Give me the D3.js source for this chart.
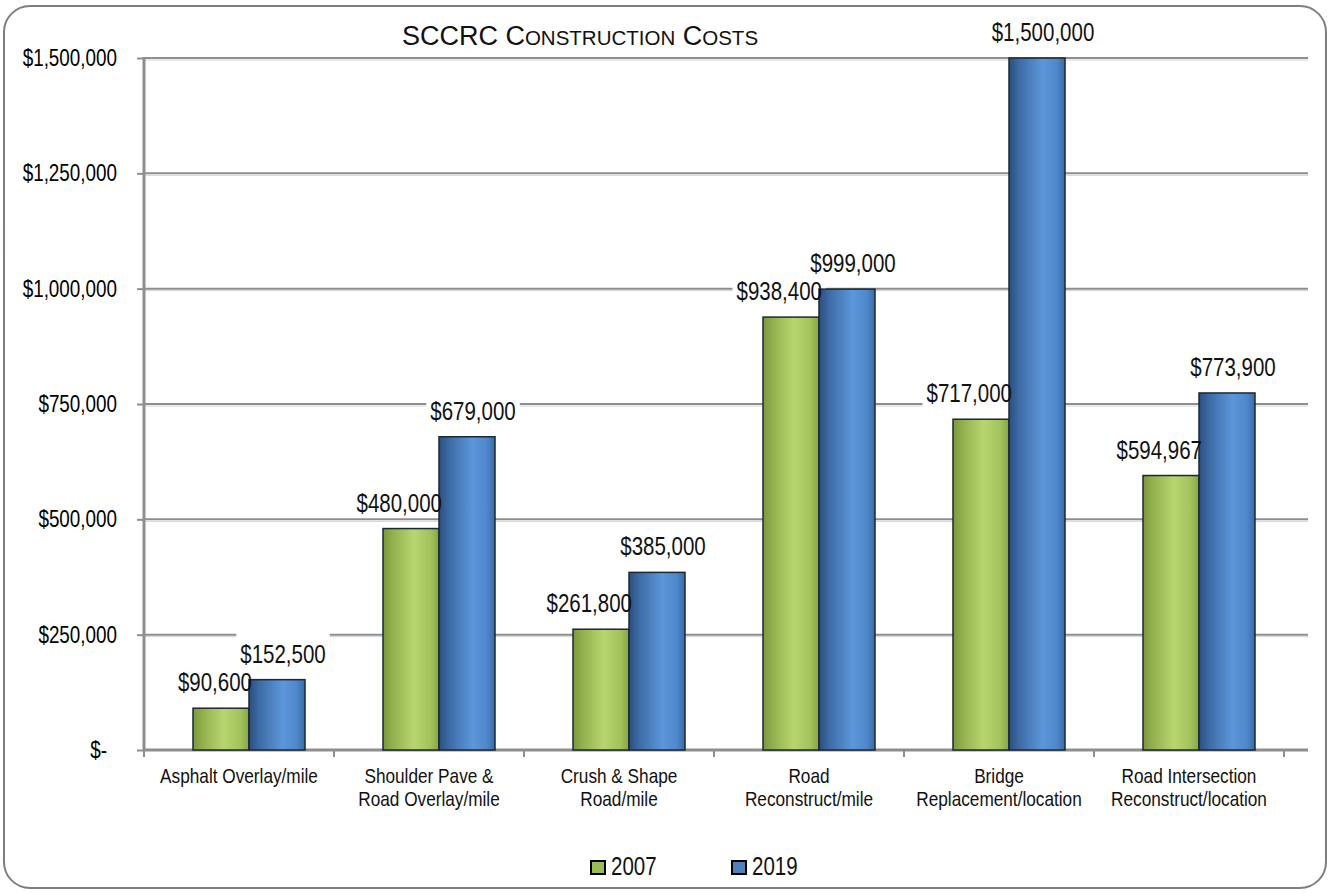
<!DOCTYPE html>
<html>
<head>
<meta charset="utf-8">
<script src="https://cdn.jsdelivr.net/npm/d3@7"></script>
<style>
  html, body { margin: 0; padding: 0; background: #fff; }
  svg { display: block; font-family: "Liberation Sans", Arial, sans-serif; }
</style>
</head>
<body>
<svg id="chart"></svg>
<script>
// chart values
const categories = [
  "Asphalt Overlay/mile",
  "Shoulder Pave &|Road Overlay/mile",
  "Crush & Shape|Road/mile",
  "Road|Reconstruct/mile",
  "Bridge|Replacement/location",
  "Road Intersection|Reconstruct/location"
];
const series = ["2007", "2019"];
const values2007 = [90600, 480000, 261800, 938400, 717000, 594967];
const values2019 = [152500, 679000, 385000, 999000, 1500000, 773900];
const yTicks = [0, 250000, 500000, 750000, 1000000, 1250000, 1500000];

const width = 1330, height = 894;
const margin = {top: 58, right: 46, bottom: 144, left: 144};
const squeeze = 0.82; // no narrow face installed, so condense regular glyphs

const svg = d3.select("#chart")
  .attr("width", width)
  .attr("height", height)
  .attr("viewBox", [0, 0, width, height]);

// turn x/y into a transform so the text can be squeezed around its anchor
function narrow(sel) {
  sel.each(function() {
    const t = d3.select(this);
    const x = +t.attr("x") || 0, y = +t.attr("y") || 0;
    t.attr("x", 0).attr("y", 0)
     .attr("transform", `translate(${x},${y}) scale(${squeeze},1)`);
  });
}

const defs = svg.append("defs");
function gradient(id, stops) {
  const g = defs.append("linearGradient").attr("id", id)
    .attr("x1", "0%").attr("x2", "100%").attr("y1", "0%").attr("y2", "0%");
  stops.forEach(s => g.append("stop").attr("offset", s[0]).attr("stop-color", s[1]));
}
gradient("g2007", [["0%", "#7b983c"], ["18%", "#93b24f"], ["55%", "#b7d66f"], ["85%", "#a2c25c"], ["100%", "#86a545"]]);
gradient("g2019", [["0%", "#2a4f7d"], ["18%", "#3d6ba5"], ["60%", "#5c97da"], ["85%", "#4f88cb"], ["100%", "#3b6ba6"]]);
const fills = {"2007": "url(#g2007)", "2019": "url(#g2019)"};
const legendFills = {"2007": "#9bbb59", "2019": "#4f81bd"};

const data = categories.map((c, i) => ({cat: c, "2007": values2007[i], "2019": values2019[i]}));

const x0 = d3.scaleBand()
  .domain(categories)
  .range([margin.left, 1284]);

const x1 = d3.scaleBand()
  .domain(series)
  .range([0, 112]);

const y = d3.scaleLinear()
  .domain([0, 1500000])
  .range([750, margin.top]);

const pairShift = x0.bandwidth() / 2 + 10 - 56;
const gridRight = 1308;

// outer frame
svg.append("rect")
  .attr("x", 4).attr("y", 6)
  .attr("width", 1322).attr("height", 882)
  .attr("rx", 26).attr("ry", 26)
  .attr("fill", "#fff")
  .attr("stroke", "#7f7f7f")
  .attr("stroke-width", 2);

// gridlines
const grid = svg.append("g");
grid.selectAll("line.hi")
  .data(yTicks.filter(d => d > 0))
  .join("line")
    .attr("class", "hi")
    .attr("x1", margin.left).attr("x2", gridRight)
    .attr("y1", d => y(d)).attr("y2", d => y(d))
    .attr("stroke", "#8e8e8e")
    .attr("stroke-width", 2);
grid.selectAll("line.lo")
  .data(yTicks.filter(d => d > 0))
  .join("line")
    .attr("class", "lo")
    .attr("x1", margin.left).attr("x2", gridRight)
    .attr("y1", d => y(d) + 2).attr("y2", d => y(d) + 2)
    .attr("stroke", "#d4d4d4")
    .attr("stroke-width", 1);

// y axis
const yAxis = svg.append("g")
  .attr("transform", `translate(${margin.left},0)`)
  .call(d3.axisLeft(y).tickValues(yTicks).tickSize(7).tickPadding(20)
    .tickFormat(d => d === 0 ? "$-" : d3.format("$,")(d)))
  .call(g => g.select(".domain").remove());
yAxis.attr("font-family", null).attr("font-size", null);
yAxis.selectAll(".tick line").attr("stroke", "#8e8e8e").attr("stroke-width", 2);
yAxis.selectAll(".tick text")
  .attr("font-size", 23)
  .attr("fill", "#000")
  .attr("x", d => d === 0 ? -37 : -27)
  .call(narrow);

svg.append("line")
  .attr("x1", margin.left).attr("x2", margin.left)
  .attr("y1", margin.top - 1).attr("y2", 751)
  .attr("stroke", "#8e8e8e").attr("stroke-width", 3);

// x axis
const xAxis = svg.append("g")
  .attr("transform", `translate(0,750)`);
xAxis.append("line")
  .attr("x1", margin.left).attr("x2", gridRight)
  .attr("y1", 0).attr("y2", 0)
  .attr("stroke", "#8e8e8e").attr("stroke-width", 3);
xAxis.selectAll("line.tk")
  .data(categories.concat(["end"]))
  .join("line")
    .attr("class", "tk")
    .attr("x1", (d, i) => margin.left + i * x0.bandwidth())
    .attr("x2", (d, i) => margin.left + i * x0.bandwidth())
    .attr("y1", 0).attr("y2", 7)
    .attr("stroke", "#8e8e8e").attr("stroke-width", 2);

const catLines = [];
categories.forEach(c => c.split("|").forEach((t, i) => catLines.push({cat: c, t, i})));
svg.append("g")
  .attr("font-size", 21)
  .attr("text-anchor", "middle")
  .attr("fill", "#111")
  .selectAll("text")
  .data(catLines)
  .join("text")
    .attr("x", d => x0(d.cat) + x0.bandwidth() / 2)
    .attr("y", d => 783 + d.i * 23)
    .text(d => d.t)
    .call(narrow);

// label geometry
const flat = [];
data.forEach(d => series.forEach(s => flat.push({cat: d.cat, s, v: d[s]})));
const barX = d => x0(d.cat) + pairShift + x1(d.s);
const labelAnchor = d => d.s === "2007" ? "end" : "middle";
const labelX = d => d.s === "2007"
  ? x0(d.cat) + pairShift + x1("2019") + 3
  : barX(d) + x1.bandwidth() / 2 + 6;
const labelY = d => y(d.v) - 17;
const fmt = d3.format("$,");

// white backdrops behind labels cut the gridlines, bars drawn over them
const boxes = svg.append("g");
const bars = svg.append("g");
const labelG = svg.append("g").attr("font-size", 25);
const labels = labelG.selectAll("text")
  .data(flat)
  .join("text")
    .attr("x", labelX)
    .attr("y", labelY)
    .attr("text-anchor", labelAnchor)
    .attr("fill", "#111")
    .text(d => fmt(d.v))
    .call(narrow);

labels.each(function(d) {
  const w = this.getComputedTextLength() * squeeze;
  const x = d.s === "2007" ? labelX(d) - w : labelX(d) - w / 2;
  boxes.append("rect")
    .attr("x", x - 4).attr("y", labelY(d) - 32)
    .attr("width", w + 8).attr("height", 37)
    .attr("fill", "#fff");
});

bars.selectAll("rect")
  .data(flat)
  .join("rect")
    .attr("x", barX)
    .attr("y", d => y(d.v))
    .attr("width", x1.bandwidth())
    .attr("height", d => y(0) - y(d.v))
    .attr("fill", d => fills[d.s])
    .attr("stroke", "#1c2833")
    .attr("stroke-width", 1.5);

// title
const title = svg.append("text")
  .attr("x", 580).attr("y", 45)
  .attr("text-anchor", "middle")
  .attr("fill", "#111");
[["SCCRC C", 27], ["ONSTRUCTION", 20.5], [" C", 27], ["OSTS", 20.5]].forEach(p => {
  title.append("tspan").attr("font-size", p[1]).text(p[0]);
});

// legend
const legend = svg.append("g").attr("font-size", 25);
const legendX = {"2007": 591, "2019": 732};
series.forEach(s => {
  legend.append("rect")
    .attr("x", legendX[s]).attr("y", 861)
    .attr("width", 14).attr("height", 13)
    .attr("fill", legendFills[s])
    .attr("stroke", "#000").attr("stroke-width", 2);
  legend.append("text")
    .attr("x", legendX[s] + 20).attr("y", 875)
    .attr("fill", "#111")
    .text(s)
    .call(narrow);
});
</script>
</body>
</html>
